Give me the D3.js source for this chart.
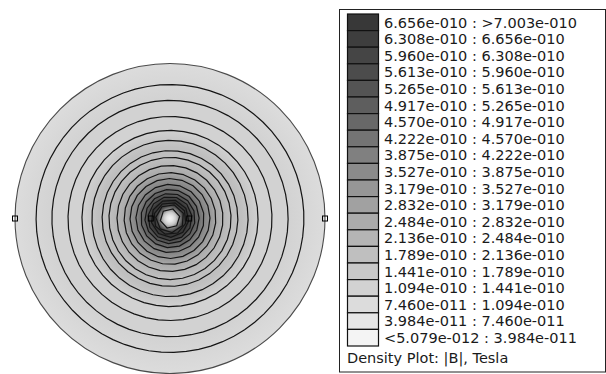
<!DOCTYPE html>
<html>
<head>
<meta charset="utf-8">
<script src="https://cdn.jsdelivr.net/npm/d3@7"></script>
<style>
  html, body { margin: 0; padding: 0; background: #fff; }
  svg { display: block; }
</style>
</head>
<body>
<script>
// legend rows, top (highest |B|) first
const binLabels = [
  '6.656e-010 : >7.003e-010', '6.308e-010 : 6.656e-010', '5.960e-010 : 6.308e-010',
  '5.613e-010 : 5.960e-010', '5.265e-010 : 5.613e-010', '4.917e-010 : 5.265e-010',
  '4.570e-010 : 4.917e-010', '4.222e-010 : 4.570e-010', '3.875e-010 : 4.222e-010',
  '3.527e-010 : 3.875e-010', '3.179e-010 : 3.527e-010', '2.832e-010 : 3.179e-010',
  '2.484e-010 : 2.832e-010', '2.136e-010 : 2.484e-010', '1.789e-010 : 2.136e-010',
  '1.441e-010 : 1.789e-010', '1.094e-010 : 1.441e-010', '7.460e-011 : 1.094e-010',
  '3.984e-011 : 7.460e-011', '<5.079e-012 : 3.984e-011'
];
// lower edge of each row (Tesla)
const binLow = [
  6.656e-10, 6.308e-10, 5.960e-10, 5.613e-10, 5.265e-10, 4.917e-10, 4.570e-10,
  4.222e-10, 3.875e-10, 3.527e-10, 3.179e-10, 2.832e-10, 2.484e-10, 2.136e-10,
  1.789e-10, 1.441e-10, 1.094e-10, 7.460e-11, 3.984e-11, 5.079e-12
];
const binColors = [
  '#383838', '#3e3e3e', '#454545', '#4c4c4c', '#545454', '#5e5e5e', '#686868',
  '#747474', '#808080', '#8b8b8b', '#969696', '#a1a1a1', '#ababab', '#b5b5b5',
  '#bfbfbf', '#c9c9c9', '#d2d2d2', '#dcdcdc', '#e6e6e6', '#f4f4f4'
];
const legendTitle = 'Density Plot: |B|, Tesla';

// |B| read along a radius of the plot (radius in mm, field in Tesla)
const profileR = [0, 1, 2, 3, 4, 5, 6, 7, 8, 9, 10.5, 13, 15, 17, 19.5, 23, 29, 38, 50];
const profileB = [0.1e-10, 0.4e-10, 1.6e-10, 3.6e-10, 5.8e-10, 6.9e-10, 6.8e-10, 5.9e-10,
  5.2e-10, 4.6e-10, 3.95e-10, 3.2e-10, 2.8e-10, 2.45e-10, 2.13e-10, 1.8e-10,
  1.43e-10, 1.1e-10, 0.84e-10];

// flux line radii (mm)
const fluxR = [43.2, 38.1, 32.9, 28.4, 25.2, 21.9, 19.7, 17.1, 14.8, 12.9, 11.0, 9.4,
  8.1, 7.1, 6.1, 5.3, 4.6, 3.2];
// geometry nodes on the horizontal axis (mm)
const nodeX = [-50, -6.2, 6.2, 50];
const outerR = 50;

const width = 606;
const height = 374;

const svg = d3.select('body').append('svg')
  .attr('width', width)
  .attr('height', height);

// ---- density plot ----
const cx = 170, cy = 218.5;
const r = d3.scaleLinear().domain([0, outerR]).range([0, 155]);

// ascending thresholds -> ascending greys
const thresholds = binLow.slice(0, 19).reverse();
const color = d3.scaleThreshold()
  .domain(thresholds)
  .range(binColors.slice().reverse());

// gradient lives in the plot group's coordinates, centred on 0,0
const grad = svg.append('defs').append('radialGradient')
  .attr('id', 'dens')
  .attr('gradientUnits', 'userSpaceOnUse')
  .attr('cx', 0).attr('cy', 0).attr('r', r(outerR))
  .attr('fx', 0).attr('fy', 0);

grad.selectAll('stop')
  .data(profileR)
  .enter()
  .append('stop')
  .attr('offset', d => d / outerR)
  .attr('stop-color', (d, i) => color(profileB[i]));

const plot = svg.append('g').attr('transform', `translate(${cx},${cy})`);

plot.append('circle')
  .attr('r', r(outerR))
  .attr('fill', 'url(#dens)')
  .attr('stroke', '#4a4a4a')
  .attr('stroke-width', 1.1);

const ring = d3.lineRadial()
  .angle(d => d[0])
  .radius(d => d[1])
  .curve(d3.curveLinearClosed);

plot.selectAll('.flux')
  .data(fluxR)
  .enter()
  .append('path')
  .attr('class', 'flux')
  .attr('d', d => {
    const n = Math.max(6, Math.round(r(d) / 2));
    return ring(d3.range(n).map(k => [k / n * 2 * Math.PI + 0.3, r(d)]));
  })
  .attr('fill', 'none')
  .attr('stroke', '#151515')
  .attr('stroke-width', 1.2);

plot.selectAll('.node')
  .data(nodeX)
  .enter()
  .append('rect')
  .attr('class', 'node')
  .attr('x', d => r(d) - 2.5)
  .attr('y', -2.5)
  .attr('width', 5)
  .attr('height', 5)
  .attr('fill', 'none')
  .attr('stroke', '#000')
  .attr('stroke-width', 1);

// ---- legend ----
const legend = svg.append('g');
const rowH = 16.6;
const rowTop = 14;

legend.append('rect')
  .attr('x', 339.5).attr('y', 9.5)
  .attr('width', 266).attr('height', 362.5)
  .attr('fill', '#fff')
  .attr('stroke', '#222')
  .attr('stroke-width', 1);

legend.selectAll('.swatch')
  .data(binColors)
  .enter()
  .append('rect')
  .attr('class', 'swatch')
  .attr('x', 347.5)
  .attr('y', (d, i) => rowTop + i * rowH)
  .attr('width', 31)
  .attr('height', rowH)
  .attr('fill', d => d)
  .attr('stroke', '#111')
  .attr('stroke-width', 1.2);

legend.selectAll('.lbl')
  .data(binLabels)
  .enter()
  .append('text')
  .attr('class', 'lbl')
  .attr('x', 384)
  .attr('y', (d, i) => rowTop + i * rowH + 13.5)
  .attr('font-family', 'DejaVu Sans, Verdana, sans-serif')
  .attr('font-size', 14.5)
  .attr('fill', '#1a1a1a')
  .text(d => d);

legend.append('text')
  .attr('x', 347)
  .attr('y', 363)
  .attr('font-family', 'DejaVu Sans, Verdana, sans-serif')
  .attr('font-size', 14.5)
  .attr('fill', '#1a1a1a')
  .text(legendTitle);
</script>
</body>
</html>
